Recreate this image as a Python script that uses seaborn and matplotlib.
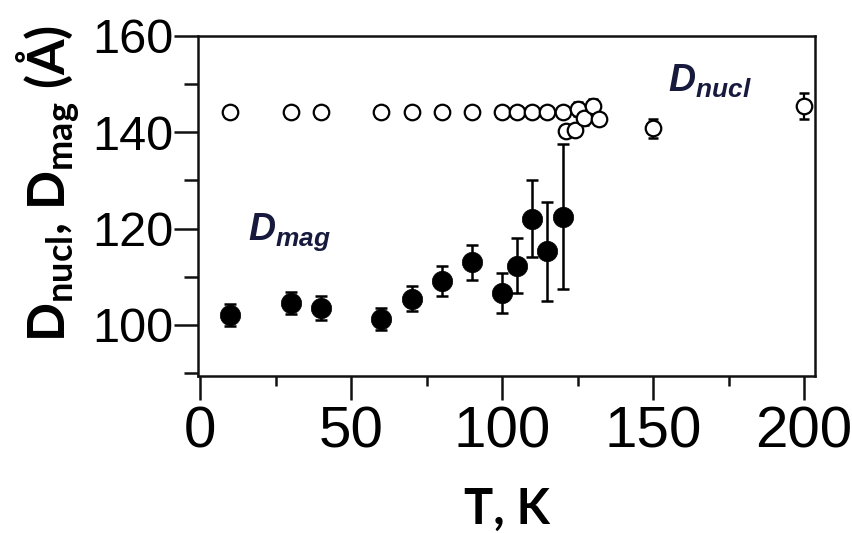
import matplotlib
matplotlib.use("Agg")
import matplotlib.pyplot as plt
import seaborn as sns
import pandas as pd
import numpy as np

# ---- data ----
T_mag = [10, 30, 40, 60, 70, 80, 90, 100, 105, 110, 115, 120]
D_mag = [102.1, 104.5, 103.5, 101.2, 105.4, 109.1, 113.0, 106.6, 112.3, 122.1, 115.3, 122.5]
D_mag_err = [2.3, 2.3, 2.5, 2.3, 2.6, 3.1, 3.7, 4.2, 5.7, 8.0, 10.3, 15.0]

T_nucl = [10, 30, 40, 60, 70, 80, 90, 100, 105, 110, 115, 120,
          121, 124, 125, 127, 130, 132, 150, 200]
D_nucl = [144.2, 144.2, 144.2, 144.2, 144.2, 144.2, 144.2, 144.2, 144.2, 144.2, 144.2, 144.2,
          140.2, 140.5, 144.8, 143.0, 145.5, 142.8, 140.8, 145.5]
D_nucl_err = [0, 0, 0, 0, 0, 0, 0, 0, 0, 0, 0, 0,
              0.8, 1.0, 1.5, 1.5, 1.5, 1.2, 2.0, 2.7]

x_ticks = [0, 50, 100, 150, 200]
y_ticks = [100, 120, 140, 160]

mag = pd.DataFrame({"T": T_mag, "D": D_mag, "err": D_mag_err})
nucl = pd.DataFrame({"T": T_nucl, "D": D_nucl, "err": D_nucl_err})

sns.set_theme(style="ticks")
plt.rcParams["font.family"] = ["Liberation Sans", "DejaVu Sans"]
plt.rcParams["text.color"] = "black"
plt.rcParams["axes.labelcolor"] = "black"
plt.rcParams["xtick.color"] = "black"
plt.rcParams["ytick.color"] = "black"
plt.rcParams["axes.edgecolor"] = "black"

fig = plt.figure(figsize=(8.52, 5.33), dpi=100)
ax = fig.add_axes([198/852, 1-376/533, (815-198)/852, (376-36)/533])

# error bars
ax.errorbar(mag["T"], mag["D"], yerr=mag["err"], fmt="none", ecolor="black",
            elinewidth=1.8, capsize=4.5, capthick=1.8, zorder=2)
ax.errorbar(nucl["T"], nucl["D"], yerr=nucl["err"], fmt="none", ecolor="black",
            elinewidth=1.6, capsize=3.5, capthick=1.8, zorder=2)

# markers
sns.scatterplot(data=nucl, x="T", y="D", ax=ax, s=125, marker="o",
                facecolor="white", edgecolor="black", linewidth=1.6, zorder=3, legend=False)
sns.scatterplot(data=mag, x="T", y="D", ax=ax, s=215, marker="o",
                color="black", edgecolor="black", linewidth=0.5, zorder=4, legend=False)

ax.set_xlim(-0.7, 203.6)
ax.set_ylim(89.4, 160)
ax.set_xticks(x_ticks)
ax.set_yticks(y_ticks)
ax.set_xticks([25, 75, 125, 175], minor=True)
ax.set_yticks([90, 110, 130, 150], minor=True)

for sp in ax.spines.values():
    sp.set_linewidth(1.8)
    sp.set_color("#111111")

ax.tick_params(axis="x", which="major", length=17, width=1.8, direction="out",
               pad=4, labelsize=42, color="#111111", labelcolor="black")
ax.tick_params(axis="x", which="minor", length=7, width=1.8, direction="out", color="#111111")
ax.tick_params(axis="y", which="major", length=17, width=1.8, direction="out",
               pad=1, labelsize=35, color="#111111", labelcolor="black")
ax.tick_params(axis="y", which="minor", length=10, width=1.8, direction="out", color="#111111")

for lab in ax.get_yticklabels():
    lab.set_family(["Liberation Sans Narrow", "Liberation Sans", "DejaVu Sans"])
for lab in ax.get_xticklabels():
    lab.set_family(["Liberation Sans", "DejaVu Sans"])

ax.set_xlabel("T, K", fontsize=35, fontweight="bold", family=["Lato", "DejaVu Sans"],
              labelpad=20, color="black")
ax.set_ylabel(r"D$_\mathregular{nucl}$, D$_\mathregular{mag}$ (Å)", fontsize=37,
              fontweight="bold", family=["Lato", "DejaVu Sans"], color="black")
ax.yaxis.set_label_coords(-0.19, 0.565)

ann_color = "#171a3d"
ax.text(155, 148.4, r"D$_\mathregular{nucl}$", fontsize=27, fontweight="bold", style="italic",
        color=ann_color, family=["Liberation Sans", "DejaVu Sans"], ha="left", va="baseline")
ax.text(16, 117.6, r"D$_\mathregular{mag}$", fontsize=27, fontweight="bold", style="italic",
        color=ann_color, family=["Liberation Sans", "DejaVu Sans"], ha="left", va="baseline")

fig.savefig("out.png", dpi=100)
